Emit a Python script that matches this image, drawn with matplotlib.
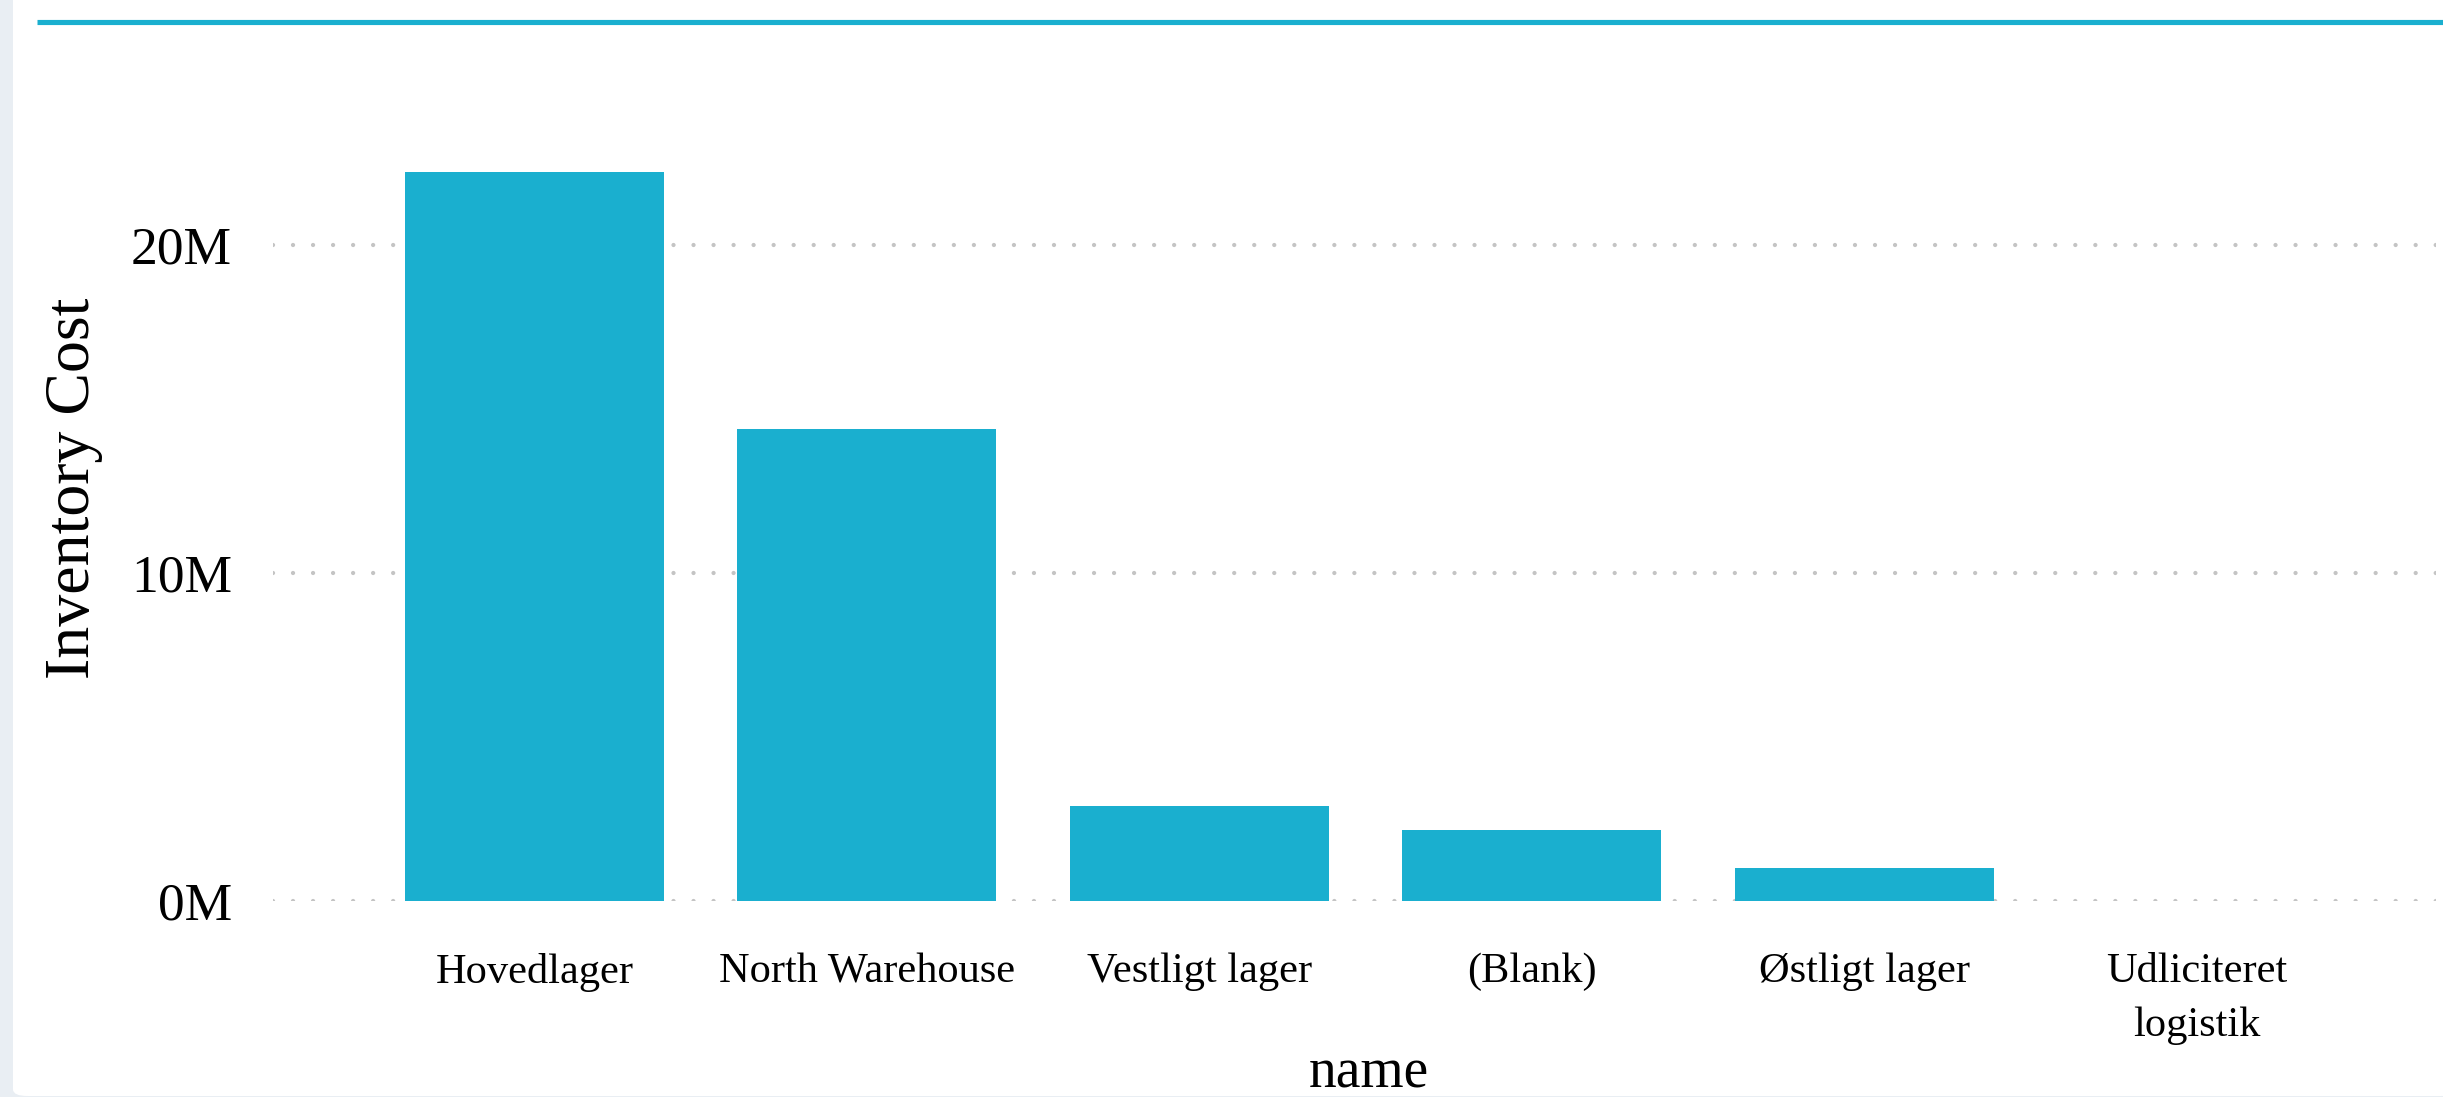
import matplotlib
matplotlib.use("Agg")
import matplotlib.pyplot as plt
from matplotlib.patches import FancyBboxPatch
from matplotlib.lines import Line2D
from matplotlib.ticker import FuncFormatter

names = ["Hovedlager", "North Warehouse", "Vestligt lager", "(Blank)",
         "Østligt lager", "Udliciteret\nlogistik"]
cost_m = [22.23, 14.38, 2.88, 2.14, 0.98, 0.0]
y_ticks = [0, 10, 20]

bar_color = "#1aafcf"
W, H = 2443, 1097

plt.rcParams["font.family"] = ["Liberation Serif", "DejaVu Serif"]

fig = plt.figure(figsize=(W / 100, H / 100), dpi=100)
fig.patch.set_facecolor("#e9eef3")

# white panel with rounded corner over grey page strip
panel = FancyBboxPatch((13 / W, 1 / H), 1.0, 1.2,
                       boxstyle="round,pad=0,rounding_size=0.006",
                       transform=fig.transFigure, facecolor="white",
                       edgecolor="none", zorder=-5)
fig.patches.append(panel)
fig.lines.append(Line2D([37 / W, 1.0], [1 - 22 / H, 1 - 22 / H],
                        transform=fig.transFigure, color=bar_color,
                        linewidth=3.7, solid_capstyle="butt", zorder=-4))

ax = fig.add_axes([273 / W, 1 - 900.5 / H, (2436 - 273) / W, (900.5 - 114) / H])
ax.set_facecolor("none")
ax.bar(range(len(names)), cost_m, width=0.779, color=bar_color, zorder=2)

ax.set_xlim(-0.786, 5.719)
ax.set_ylim(0, 24.0)
ax.set_xticks(range(len(names)))
ax.set_xticklabels(names, fontsize=30.5, linespacing=1.52)
ax.set_yticks(y_ticks)
ax.yaxis.set_major_formatter(FuncFormatter(lambda v, p: f"{v:.0f}M"))
ax.tick_params(axis="y", labelsize=38.5, length=0, pad=29.5)
ax.tick_params(axis="x", length=0, pad=37.5)
for s in ax.spines.values():
    s.set_visible(False)

ax.set_axisbelow(True)
ax.grid(axis="y", color="#c4c4c4", linewidth=3.1,
        linestyle=(0, (0.001, 4.65)), dash_capstyle="round", zorder=0)

ax.set_ylabel("Inventory Cost", fontsize=46)
ax.yaxis.label.set_verticalalignment("baseline")
ax.yaxis.set_label_coords(89 / W, 1 - 488.5 / H, transform=fig.transFigure)
ax.set_xlabel("name", fontsize=40)
ax.xaxis.label.set_verticalalignment("baseline")
ax.xaxis.set_label_coords(1369 / W, 1 - 1087 / H, transform=fig.transFigure)

fig.savefig("out.png", dpi=100)
